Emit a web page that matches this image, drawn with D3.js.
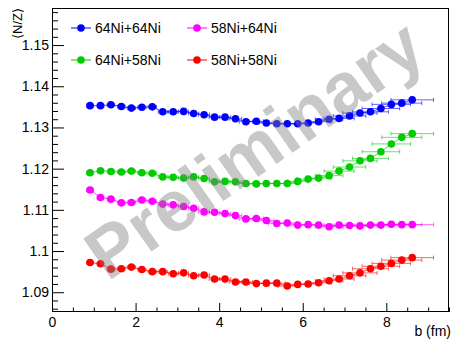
<!DOCTYPE html>
<html><head><meta charset="utf-8">
<script src="https://cdn.jsdelivr.net/npm/d3@7"></script>
<style>
body{margin:0;background:#fff}
svg{display:block}
text{font-family:"Liberation Sans",Arial,Helvetica,sans-serif}
</style>
</head><body>
<svg id="c" width="453" height="341"></svg>
<script>
// ---- data ----
const impactParam = [0.91,1.16,1.41,1.66,1.90,2.15,2.40,2.65,2.90,3.15,3.39,3.64,3.89,4.14,4.39,4.64,4.89,5.13,5.38,5.63,5.88,6.13,6.38,6.63,6.87,7.12,7.37,7.62,7.87,8.12,8.37,8.62];
const impactErr = [0.08,0.08,0.09,0.09,0.10,0.10,0.10,0.11,0.11,0.12,0.12,0.13,0.13,0.14,0.15,0.16,0.17,0.18,0.20,0.22,0.24,0.27,0.30,0.33,0.36,0.39,0.41,0.43,0.45,0.46,0.48,0.51];
const ni64ni64 = [1.1353,1.1353,1.1355,1.1351,1.1347,1.1349,1.1350,1.1338,1.1338,1.1339,1.1334,1.1331,1.1325,1.1325,1.1321,1.1314,1.1315,1.1311,1.1309,1.1309,1.1309,1.1311,1.1314,1.1320,1.1322,1.1328,1.1335,1.1338,1.1346,1.1356,1.1359,1.1367];
const ni58ni64 = [1.1148,1.1130,1.1126,1.1117,1.1118,1.1124,1.1121,1.1114,1.1112,1.1108,1.1104,1.1095,1.1094,1.1091,1.1086,1.1078,1.1079,1.1074,1.1067,1.1068,1.1063,1.1064,1.1063,1.1059,1.1063,1.1062,1.1061,1.1063,1.1063,1.1065,1.1064,1.1064];
const ni64ni58 = [1.1190,1.1195,1.1193,1.1192,1.1194,1.1190,1.1189,1.1180,1.1179,1.1177,1.1180,1.1176,1.1168,1.1169,1.1168,1.1164,1.1163,1.1164,1.1164,1.1164,1.1169,1.1175,1.1177,1.1183,1.1194,1.1204,1.1219,1.1225,1.1241,1.1260,1.1276,1.1285];
const ni58ni58 = [1.0972,1.0969,1.0956,1.0957,1.0961,1.0955,1.0950,1.0950,1.0945,1.0947,1.0940,1.0942,1.0932,1.0932,1.0925,1.0925,1.0921,1.0922,1.0922,1.0915,1.0919,1.0920,1.0923,1.0928,1.0932,1.0940,1.0947,1.0957,1.0963,1.0970,1.0978,1.0984];
const seriesNames = ["64Ni+64Ni","58Ni+64Ni","64Ni+58Ni","58Ni+58Ni"];
const seriesColors = ["#0000ff","#ff00ff","#00cc00","#ff0000"];
const xTicks = [0,2,4,6,8];
const xTickLabels = ["0","2","4","6","8"];
const xMinorTicks = [0.5,1,1.5,2.5,3,3.5,4.5,5,5.5,6.5,7,7.5,8.5,9,9.5];
const yTicks = [1.09,1.10,1.11,1.12,1.13,1.14,1.15];
const yTickLabels = ["1.09","1.1","1.11","1.12","1.13","1.14","1.15"];
const yMinorTicks = [1.086,1.088,1.092,1.094,1.096,1.098,1.102,1.104,1.106,1.108,1.112,1.114,1.116,1.118,1.122,1.124,1.126,1.128,1.132,1.134,1.136,1.138,1.142,1.144,1.146,1.148,1.152,1.154,1.156,1.158];
const xTitle = "b (fm)";
const yTitle = "\u27E8N/Z\u27E9";
const watermark = "Preliminary";

const seriesValues = [ni64ni64, ni58ni64, ni64ni58, ni58ni58];

// ---- layout ----
const L = 52, R = 449, T = 8, B = 312;
const svg = d3.select("#c");
const x = d3.scaleLinear().domain([0, 9.5]).range([L, R]);
const y = d3.scaleLinear().domain([1.0852, 1.159]).range([B, T]);

// axes
const gx = svg.append("g").attr("transform", `translate(0,${B})`)
  .call(d3.axisBottom(x).tickValues(xTicks).tickFormat((d,i)=>xTickLabels[i]).tickSize(-9).tickPadding(5));
const gxm = svg.append("g").attr("transform", `translate(0,${B})`)
  .call(d3.axisBottom(x).tickValues(xMinorTicks).tickFormat("").tickSize(-4.5));
const gy = svg.append("g").attr("transform", `translate(${L},0)`)
  .call(d3.axisLeft(y).tickValues(yTicks).tickFormat((d,i)=>yTickLabels[i]).tickSize(-12).tickPadding(3));
const gym = svg.append("g").attr("transform", `translate(${L},0)`)
  .call(d3.axisLeft(y).tickValues(yMinorTicks).tickFormat("").tickSize(-6));
[gx,gxm,gy,gym].forEach(g=>{
  g.select(".domain").remove();
  g.selectAll(".tick line").attr("stroke","#000").attr("stroke-width",1);
  g.selectAll(".tick text").attr("font-size",14).attr("fill","#000")
    .style("font-family",'"Liberation Sans",Arial,sans-serif');
});
// frame
svg.append("rect").attr("x",L+0.5).attr("y",T+0.5).attr("width",R-L-1).attr("height",B-T-1)
  .attr("fill","none").attr("stroke","#000").attr("stroke-width",1);

// titles
svg.append("text").attr("x",451).attr("y",336).attr("text-anchor","end")
  .attr("font-size",14).text(xTitle);
svg.append("text").attr("transform","translate(22,8) rotate(-90)").attr("text-anchor","end")
  .attr("font-size",13).text(yTitle);

// series
const line = d3.line().x((d,i)=>x(impactParam[i])).y(d=>y(d));
seriesValues.forEach((vals, s) => {
  const col = seriesColors[s];
  const g = svg.append("g");
  const pts = vals.map((v,i)=>({b:impactParam[i], e:impactErr[i], v}));
  g.selectAll("line.eb").data(pts).join("line").attr("class","eb")
    .attr("x1",d=>x(d.b-d.e)).attr("x2",d=>x(d.b+d.e))
    .attr("y1",d=>y(d.v)).attr("y2",d=>y(d.v))
    .attr("stroke",col).attr("stroke-width",1).attr("stroke-opacity",0.6);
  g.selectAll("line.cl").data(pts).join("line").attr("class","cl")
    .attr("x1",d=>x(d.b-d.e)).attr("x2",d=>x(d.b-d.e))
    .attr("y1",d=>y(d.v)-2).attr("y2",d=>y(d.v)+2)
    .attr("stroke",col).attr("stroke-width",1).attr("stroke-opacity",0.6);
  g.selectAll("line.cr").data(pts).join("line").attr("class","cr")
    .attr("x1",d=>x(d.b+d.e)).attr("x2",d=>x(d.b+d.e))
    .attr("y1",d=>y(d.v)-2).attr("y2",d=>y(d.v)+2)
    .attr("stroke",col).attr("stroke-width",1).attr("stroke-opacity",0.6);
  g.append("path").attr("d",line(vals)).attr("fill","none").attr("stroke",col).attr("stroke-width",1).attr("stroke-opacity",0.7);
  g.selectAll("circle").data(pts).join("circle")
    .attr("cx",d=>x(d.b)).attr("cy",d=>y(d.v)).attr("r",3.8).attr("fill",col);
});

// legend
const legPos = [[81,28],[197,28],[81,60],[197,60]];
seriesNames.forEach((n,s)=>{
  const [lx,ly] = legPos[s];
  const g = svg.append("g");
  g.append("line").attr("x1",lx-10).attr("x2",lx+10).attr("y1",ly).attr("y2",ly)
    .attr("stroke",seriesColors[s]).attr("stroke-width",1);
  g.append("circle").attr("cx",lx).attr("cy",ly).attr("r",3.8).attr("fill",seriesColors[s]);
  g.append("text").attr("x",lx+14).attr("y",ly+5).attr("font-size",14).text(n);
});

// watermark
svg.append("text").attr("transform","translate(254,149) rotate(-35)")
  .attr("text-anchor","middle").attr("dy","0.35em")
  .attr("font-size",72).attr("font-weight","bold")
  .attr("fill","#808080").attr("fill-opacity",0.43).text(watermark);
</script>
</body></html>
